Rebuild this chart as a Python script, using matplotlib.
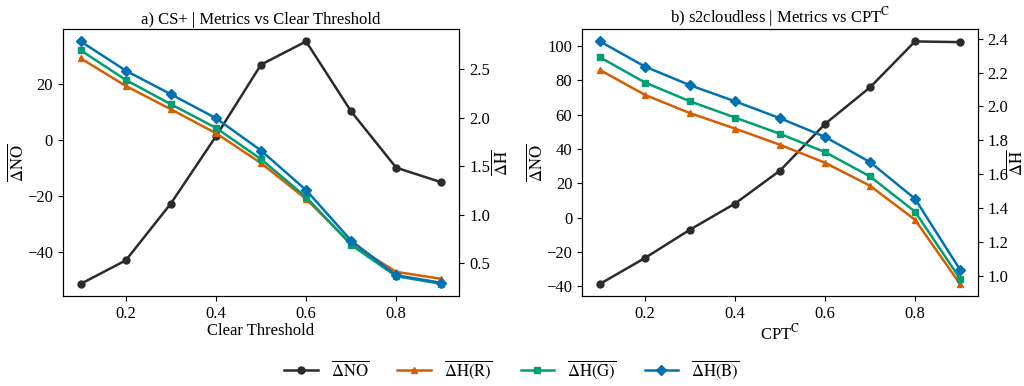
import numpy as np
import matplotlib
matplotlib.use("Agg")
import matplotlib.pyplot as plt

plt.rcParams["font.family"] = ["Liberation Serif", "DejaVu Serif"]
plt.rcParams["mathtext.fontset"] = "stix"
plt.rcParams["font.size"] = 12

thresholds = [0.1, 0.2, 0.3, 0.4, 0.5, 0.6, 0.7, 0.8, 0.9]

# a) CS+
csp_no = [-51.4, -43.0, -22.7, 1.3, 26.9, 35.2, 10.2, -9.9, -15.1]
csp_hr = [2.615, 2.330, 2.089, 1.842, 1.533, 1.162, 0.701, 0.409, 0.337]
csp_hg = [2.698, 2.392, 2.141, 1.897, 1.574, 1.182, 0.687, 0.364, 0.285]
csp_hb = [2.790, 2.488, 2.244, 1.997, 1.663, 1.254, 0.732, 0.374, 0.296]

# b) s2cloudless
s2c_no = [-38.6, -23.5, -7.0, 8.2, 27.4, 54.6, 75.9, 102.7, 102.3]
s2c_hr = [2.215, 2.068, 1.960, 1.869, 1.773, 1.667, 1.531, 1.330, 0.951]
s2c_hg = [2.290, 2.141, 2.030, 1.934, 1.838, 1.730, 1.586, 1.378, 0.982]
s2c_hb = [2.384, 2.235, 2.125, 2.030, 1.930, 1.820, 1.671, 1.454, 1.035]

c_no, c_r, c_g, c_b = "#2b2b2b", "#d55e00", "#009e73", "#0072b2"

fig = plt.figure(figsize=(10.24, 3.86), dpi=100)
ax_a = fig.add_axes([62.7 / 1024, 1 - 296 / 386, 396.6 / 1024, 266.7 / 386])
ax_b = fig.add_axes([582 / 1024, 1 - 296 / 386, 396 / 1024, 266.7 / 386])

panels = [
    (ax_a, csp_no, csp_hr, csp_hg, csp_hb, "a) CS+ | Metrics vs Clear Threshold", "Clear Threshold", 1),
    (ax_b, s2c_no, s2c_hr, s2c_hg, s2c_hb, r"b) s2cloudless | Metrics vs CPT$^{\mathrm{C}}$", r"CPT$^{\mathrm{C}}$", -2),
]

for ax, no, hr, hg, hb, title, xlab, rpad in panels:
    l0, = ax.plot(thresholds, no, color=c_no, marker="o", ms=5, lw=1.8, label=r"$\overline{\Delta\mathrm{NO}}$")
    ax.set_ylabel(r"$\overline{\Delta\mathrm{NO}}$", labelpad=0)
    ax.set_xlabel(xlab, labelpad=1)
    ax.set_title(title, fontsize=12, pad=4)
    ax.set_xticks([0.2, 0.4, 0.6, 0.8])
    ax2 = ax.twinx()
    l1, = ax2.plot(thresholds, hr, color=c_r, marker="^", ms=5, lw=1.8, label=r"$\overline{\Delta\mathrm{H(R)}}$")
    l2, = ax2.plot(thresholds, hg, color=c_g, marker="s", ms=5, lw=1.8, label=r"$\overline{\Delta\mathrm{H(G)}}$")
    l3, = ax2.plot(thresholds, hb, color=c_b, marker="D", ms=5, lw=1.8, label=r"$\overline{\Delta\mathrm{H(B)}}$")
    ax2.set_ylabel(r"$\overline{\Delta\mathrm{H}}$", labelpad=rpad)
    handles = [l0, l1, l2, l3]

ax_a.set_yticks([-40, -20, 0, 20])

fig.legend(handles=handles, loc="center", bbox_to_anchor=(0.5, 1 - 370 / 386), ncol=4,
           frameon=False, columnspacing=1.7, handlelength=2.0, handletextpad=0.8)

fig.savefig("out.png", dpi=100)
